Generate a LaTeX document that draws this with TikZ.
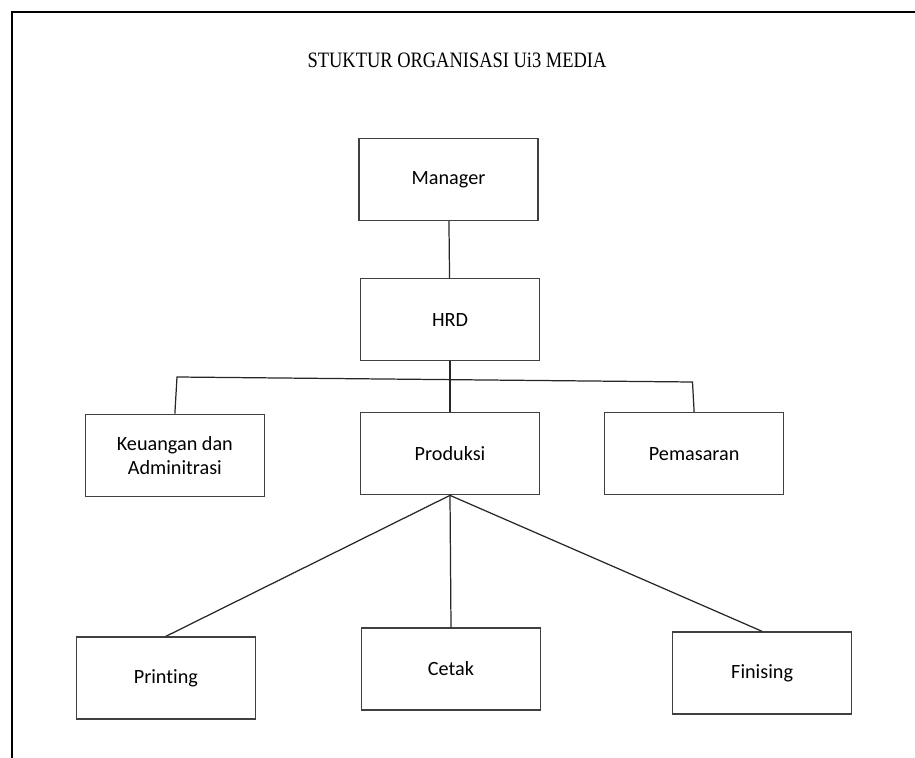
\documentclass[tikz,border=0pt]{standalone}
\usepackage{fontspec}
\setmainfont{Carlito}[Ligatures=NoCommon]
\newfontfamily\titlefont{Liberation Serif}[FakeStretch=0.84]
\usepackage{tikz}
\usetikzlibrary{positioning}

\begin{document}
\begin{tikzpicture}[
        % Styles
        node distance = 1cm,
        every node/.style = {font=\fontsize{11.5}{13.5}\selectfont},
        % Style des blocs
        box/.style = {
            rectangle,
            draw=black!75,
            line width=0.65pt,
            fill=white,
            minimum width=3.58cm,
            minimum height=1.64cm,
            inner sep=2pt,
            align=center
        },
        % Style des liaisons
        link/.style = {
            line width=0.7pt,
            draw=black!85
        }
    ]

        % 0. Cadre et titre
        \useasboundingbox (0,0) rectangle (18.3,-15.16);
        \draw [line width=1.1pt] (18.3,-0.24) -- (0.24,-0.24) -- (0.24,-15.16);
        \node (title) at (9.14,-1.2) {\titlefont\fontsize{12.5}{14}\selectfont STUKTUR ORGANISASI Ui3 MEDIA};

        % 1. Placement des nœuds
        \node (manager) [box] at (8.97,-3.59) {Manager};
        \node (hrd)     [box, below=1.14cm of manager, xshift=0.03cm] {HRD};
        \node (prod)    [box, below=1.02cm of hrd] {Produksi};
        \node (keu)     [box, left=1.9cm of prod, yshift=-0.03cm] {Keuangan dan\\Adminitrasi};
        \node (pem)     [box, right=1.28cm of prod] {Pemasaran};
        \node (cetak)   [box, below=2.64cm of prod, xshift=0.02cm] {Cetak};
        \node (print)   [box, left=2.1cm of cetak, yshift=-0.18cm] {Printing};
        \node (finis)   [box, right=2.62cm of cetak, yshift=-0.08cm] {Finising};

        % 2. Points de la barre horizontale
        \coordinate (busL) at (3.54,-7.54);
        \coordinate (busR) at (13.85,-7.64);

        % 3. Tracé des liaisons
        \draw [link] (manager) -- (hrd);
        \draw [link] (hrd) -- (prod);
        \draw [link] (keu.north) -- (busL) -- (busR) -- (pem.north);
        \draw [link] (prod.south) -- (print.north);
        \draw [link] (prod.south) -- (cetak.north);
        \draw [link] (prod.south) -- (finis.north);

    \end{tikzpicture}
\end{document}
